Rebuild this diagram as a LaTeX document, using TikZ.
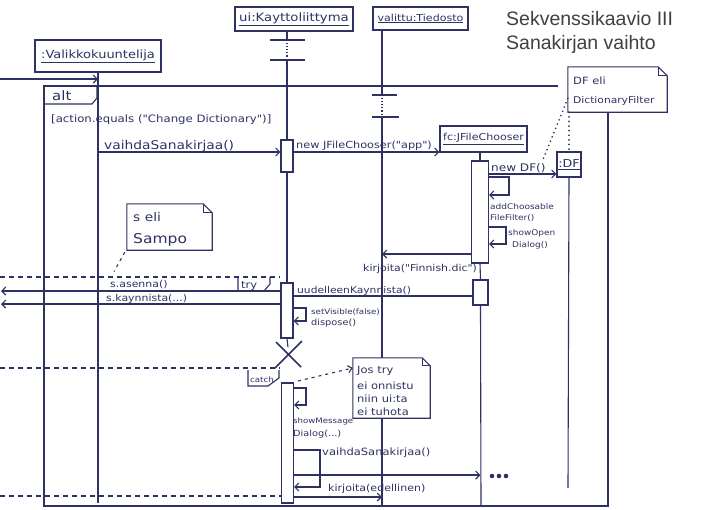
\documentclass[tikz,border=0pt]{standalone}
\usepackage{fontspec}
\newfontfamily\hand{DejaVu Sans}[FakeStretch=1.15]
\newfontfamily\titlefont{Liberation Sans}
\usetikzlibrary{arrows.meta,calc}
\definecolor{penc}{RGB}{46,50,98}
\definecolor{titlec}{RGB}{64,64,64}
\newcommand{\hf}[1]{\fontsize{#1}{#1}\selectfont}
\begin{document}
\begin{tikzpicture}[x=1pt,y=-1pt,
  pen/.style={draw=penc, line width=1.1pt},
  objbox/.style={pen, fill=white, rectangle, inner sep=0pt, text=penc, font=\hand},
  actbox/.style={pen, fill=white, rectangle, inner sep=0pt, minimum width=12pt},
  msg/.style={pen, -{Straight Barb[length=4pt,width=8pt]}},
  lbl/.style={inner sep=0pt, text=penc, font=\hand, anchor=base west},
  notebg/.style={fill=white, draw=none, rectangle, inner sep=0pt},
  sepline/.style={pen, dash pattern=on 5pt off 4pt},
  anchorline/.style={pen, dash pattern=on 3pt off 4pt},
  dotline/.style={draw=penc, line width=1.8pt, line cap=round, dash pattern=on 0.1pt off 4.5pt},
  titletext/.style={anchor=base west, inner sep=0pt, text=titlec, font=\titlefont}
]
\fill[white] (0,0) rectangle (715,509);
\useasboundingbox (0,0) rectangle (715,509);

% title
\node[titletext] (title1) at (506,25) {\hf{19.5}Sekvenssikaavio III};
\node[titletext] (title2) at (506,49) {\hf{19.5}Sanakirjan vaihto};

% alt frame
\draw[pen] (558,86) -- (44,86) -- (44,506) -- (608,506) -- (608,112);
\draw[pen] (44,104) -- (92,104) -- (97,98) -- (97,86);
\node[lbl] (altlbl) at (52,100) {\hf{13}alt};
\node[lbl] (guard) at (51,122) {\hf{10.2}[action.equals ("Change Dictionary")]};

% activation boxes
\node[actbox, minimum height=32pt] (ui1) at (287,156) {};
\node[actbox, minimum height=55pt] (ui2) at (287,310.5) {};
\node[actbox, minimum height=120pt] (ui3) at (287.5,443) {};
\node[actbox, minimum width=17pt, minimum height=102pt] (fc1) at (480,212) {};
\node[actbox, minimum width=15pt, minimum height=25pt] (fc2) at (480.5,292.5) {};

% objects
\node[objbox, minimum width=126pt, minimum height=32pt] (valikko) at (98,56) {\hf{11.3}\underline{:Valikkokuuntelija}};
\node[objbox, minimum width=118pt, minimum height=24pt] (ui) at (294,19) {\hf{11.5}\underline{ui:Kayttoliittyma}};
\node[objbox, minimum width=95pt, minimum height=23pt] (tied) at (420.5,18.5) {\hf{9.6}\underline{valittu:Tiedosto}};
\node[objbox, minimum width=87pt, minimum height=26pt] (fc) at (483.5,139) {\hf{9.6}\underline{fc:JFileChooser}};
\node[objbox, minimum width=24pt, minimum height=25pt] (df) at (569,164.5) {\hf{11}\underline{:DF}};

% lifeline reference points
\coordinate (valL) at (98,72);
\coordinate (uiL) at (287,60);
\coordinate (tiedL) at (382,117);
\coordinate (fcL) at (481,505);

% lifelines
\draw[pen] (valikko.south) -- (98,503);
\draw[pen] (ui.south -| uiL) -- (287,40);
\draw[pen] (270,40) -- (305,40) (270,60) -- (305,60);
\draw[pen, dotted] (287,43) -- (287,58);
\draw[pen] (uiL) -- (ui1.north);
\draw[pen] (ui1.south) -- (ui2.north);
\draw[pen] (ui2.south) -- (288,347);
\draw[pen] (tied.south -| tiedL) -- (382,95);
\draw[pen] (372,95) -- (397,95) (372,117) -- (399,117);
\draw[pen, dotted] (382,98) -- (382,114);
\draw[pen] (tiedL) -- (382,505);
\draw[pen] (fc.south -| fc1) -- (fc1.north);
\draw[pen] (fc1.south) -- (fc2.north);
\draw[pen] (fc2.south) -- (fcL);
\draw[pen] (df.south) -- (568,488);

% destruction
\draw[pen, line width=1.5pt] (276,342) -- (301,367) (302,341) -- (275,368);

% messages
\coordinate (in0) at (0,79);
\draw[msg] (in0) -- (in0 -| valikko.south);

\draw[msg] (98,152) -- (ui1.west |- 0,152);
\node[lbl] (lvaihda) at (104,149) {\hf{12}vaihdaSanakirjaa()};

\draw[msg] (ui1.east |- 0,152) -- (fc.west |- 0,152);
\node[lbl] (lnewjfc) at (296,148) {\hf{9.8}new JFileChooser("app")};

\draw[msg] (fc1.east |- 0,174) -- (df.west |- 0,174);
\node[lbl] (lnewdf) at (491,171) {\hf{10.5}new DF()};

\draw[msg] (fc1.east |- 0,177) -- (509,177) -- (509,195) -- (fc1.east |- 0,195);
\node[lbl] (laddc1) at (490,209) {\hf{7.8}addChoosable};
\node[lbl] (laddc2) at (490,220) {\hf{7.8}FileFilter()};

\draw[msg] (fc1.east |- 0,227) -- (506,227) -- (506,244) -- (fc1.east |- 0,244);
\node[lbl] (lshow1) at (508,235) {\hf{7.8}showOpen};
\node[lbl] (lshow2) at (512,247) {\hf{7.8}Dialog()};

\draw[msg] (fc1.west |- 0,254) -- (tiedL |- 0,254);
\node[lbl] (lkirj1) at (363,271) {\hf{9.5}kirjoita("Finnish.dic")};

\draw[pen] (ui2.east |- 0,296) -- (fc2.west |- 0,296);
\node[lbl] (luud) at (297,293) {\hf{9.3}uudelleenKaynnista()};

% try / catch separators
\draw[sepline] (0,277) -- (280,277);
\draw[pen] (238,277) -- (238,291) -- (264,291) -- (270,284) -- (270,277);
\node[lbl] (ltry) at (241,288) {\hf{10}try};

\draw[msg] (ui2.west |- 0,291) -- (1,291);
\node[lbl] (lasenna) at (110,287) {\hf{9.5}s.asenna()};
\draw[msg] (ui2.west |- 0,304) -- (1,304);
\node[lbl] (lkayn) at (106,301) {\hf{9.5}s.kaynnista(...)};

\draw[msg] (ui2.east |- 0,308) -- (306,308) -- (306,321) -- (ui2.east |- 0,321);
\node[lbl] (lsetv) at (311,314) {\hf{7.5}setVisible(false)};
\node[lbl] (ldisp) at (311,325) {\hf{8.5}dispose()};

\draw[sepline] (0,368) -- (280,368);
\draw[pen] (248,370) -- (248,386) -- (268,386) -- (279,378) -- (279,370);
\node[lbl] (lcatch) at (250,382) {\hf{7.5}catch};

\draw[msg] (ui3.east |- 0,388) -- (306,388) -- (306,405) -- (ui3.east |- 0,405);
\node[lbl] (lsmd1) at (293,423) {\hf{7.5}showMessage};
\node[lbl] (lsmd2) at (293,436) {\hf{8.5}Dialog(...)};

\draw[msg] (ui3.east |- 0,450) -- (320,450) -- (320,487) -- (ui3.east |- 0,487);
\node[lbl] (lvaihda2) at (322,455) {\hf{10}vaihdaSanakirjaa()};

\draw[msg] (ui3.east |- 0,475) -- (fc2 |- 0,475);
\foreach \i in {0,1,2} \fill[penc] (492+\i*7,476) circle (2.3pt);

\node[lbl] (lkirj2) at (328,491) {\hf{9.6}kirjoita(edellinen)};
\draw[msg] (ui3.east |- 0,497) -- (tiedL |- 0,497);

\draw[sepline] (0,496) -- (281,496);

% notes
\node[notebg, minimum width=99pt, minimum height=45pt] (dfnote) at (617.5,89.5) {};
\draw[pen] (dfnote.south west) -- (dfnote.north west) -- ([xshift=-9pt]dfnote.north east) -- ([yshift=-9pt]dfnote.north east) -- (dfnote.south east) -- cycle;
\draw[pen] ([xshift=-9pt]dfnote.north east) -- ([xshift=-9pt,yshift=-9pt]dfnote.north east) -- ([yshift=-9pt]dfnote.north east);
\node[lbl] (ldfeli) at (573,84) {\hf{10}DF eli};
\node[lbl] (ldfname) at (573,103) {\hf{9.3}DictionaryFilter};
\draw[dotline] (dfnote.south -| df) -- (df.north);
\draw[dotline] ([yshift=-9pt]dfnote.west) -- ([xshift=-3pt,yshift=3pt]lnewdf.north east);

\node[notebg, minimum width=85pt, minimum height=46pt] (sampo) at (169.5,227) {};
\draw[pen] (sampo.south west) -- (sampo.north west) -- ([xshift=-9pt]sampo.north east) -- ([yshift=-9pt]sampo.north east) -- (sampo.south east) -- cycle;
\draw[pen] ([xshift=-9pt]sampo.north east) -- ([xshift=-9pt,yshift=-9pt]sampo.north east) -- ([yshift=-9pt]sampo.north east);
\node[lbl] (lseli) at (133,221) {\hf{12}s eli};
\node[lbl] (lsampo) at (133,243) {\hf{13.5}Sampo};
\draw[anchorline] ([xshift=-2pt,yshift=-2pt]sampo.south west) -- ([xshift=4pt,yshift=8pt]lasenna.north west);

\node[notebg, minimum width=77pt, minimum height=60pt] (josnote) at (391.5,388) {};
\draw[pen] (josnote.south west) -- (josnote.north west) -- ([xshift=-8pt]josnote.north east) -- ([yshift=-8pt]josnote.north east) -- (josnote.south east) -- cycle;
\draw[pen] ([xshift=-8pt]josnote.north east) -- ([xshift=-8pt,yshift=-8pt]josnote.north east) -- ([yshift=-8pt]josnote.north east);
\node[lbl] (ljos1) at (357,373) {\hf{10}Jos try};
\node[lbl] (ljos2) at (357,389) {\hf{10}ei onnistu};
\node[lbl] (ljos3) at (357,402) {\hf{10}niin ui:ta};
\node[lbl] (ljos4) at (357,415) {\hf{10}ei tuhota};
\coordinate (catchfrom) at (298,381);
\draw[anchorline, -{Straight Barb[length=4pt,width=7pt]}] (catchfrom) -- (josnote.west |- 0,368);
\end{tikzpicture}
\end{document}
